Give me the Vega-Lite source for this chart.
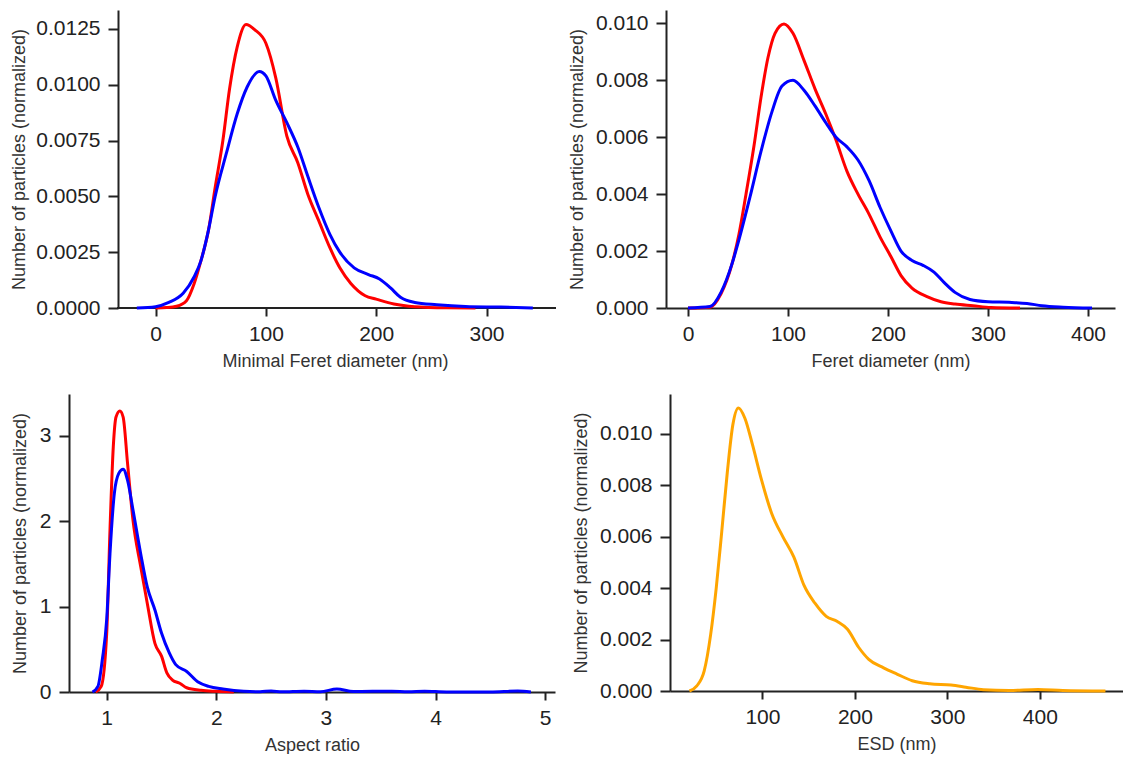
{
  "$schema": "https://vega.github.io/schema/vega-lite/v6.json",
  "background": "white",
  "padding": {"left": 10, "top": 10, "right": 0, "bottom": 0},
  "datasets": {
    "minferet": [
      {"sample": "Sample 1", "x": 0, "y": 0}, {"sample": "Sample 1", "x": 10, "y": 0.00002}, {"sample": "Sample 1", "x": 19, "y": 0.00008}, {"sample": "Sample 1", "x": 28, "y": 0.00033}, {"sample": "Sample 1", "x": 35, "y": 0.0011}, {"sample": "Sample 1", "x": 41, "y": 0.0021}, {"sample": "Sample 1", "x": 48, "y": 0.0035}, {"sample": "Sample 1", "x": 54, "y": 0.0054}, {"sample": "Sample 1", "x": 61, "y": 0.0075}, {"sample": "Sample 1", "x": 67, "y": 0.0098}, {"sample": "Sample 1", "x": 74, "y": 0.0117}, {"sample": "Sample 1", "x": 82, "y": 0.0127}, {"sample": "Sample 1", "x": 90, "y": 0.01246}, {"sample": "Sample 1", "x": 100, "y": 0.01186}, {"sample": "Sample 1", "x": 109, "y": 0.0103}, {"sample": "Sample 1", "x": 119, "y": 0.0077}, {"sample": "Sample 1", "x": 129, "y": 0.0065}, {"sample": "Sample 1", "x": 138, "y": 0.0051}, {"sample": "Sample 1", "x": 148, "y": 0.0039}, {"sample": "Sample 1", "x": 158, "y": 0.0027}, {"sample": "Sample 1", "x": 167, "y": 0.0018}, {"sample": "Sample 1", "x": 177, "y": 0.0011}, {"sample": "Sample 1", "x": 190, "y": 0.00055}, {"sample": "Sample 1", "x": 200, "y": 0.0004}, {"sample": "Sample 1", "x": 216, "y": 0.00018}, {"sample": "Sample 1", "x": 235, "y": 0.00006}, {"sample": "Sample 1", "x": 264, "y": 0.00001}, {"sample": "Sample 1", "x": 290, "y": 0},
      {"sample": "Sample 2", "x": -17, "y": 0}, {"sample": "Sample 2", "x": 0, "y": 0.00006}, {"sample": "Sample 2", "x": 12, "y": 0.00025}, {"sample": "Sample 2", "x": 25, "y": 0.00066}, {"sample": "Sample 2", "x": 35, "y": 0.0014}, {"sample": "Sample 2", "x": 41, "y": 0.0021}, {"sample": "Sample 2", "x": 48, "y": 0.0035}, {"sample": "Sample 2", "x": 54, "y": 0.005}, {"sample": "Sample 2", "x": 64, "y": 0.0069}, {"sample": "Sample 2", "x": 74, "y": 0.0087}, {"sample": "Sample 2", "x": 83, "y": 0.0099}, {"sample": "Sample 2", "x": 94, "y": 0.0106}, {"sample": "Sample 2", "x": 100, "y": 0.0104}, {"sample": "Sample 2", "x": 109, "y": 0.0093}, {"sample": "Sample 2", "x": 119, "y": 0.0083}, {"sample": "Sample 2", "x": 129, "y": 0.0072}, {"sample": "Sample 2", "x": 138, "y": 0.0059}, {"sample": "Sample 2", "x": 148, "y": 0.0045}, {"sample": "Sample 2", "x": 158, "y": 0.0033}, {"sample": "Sample 2", "x": 167, "y": 0.0025}, {"sample": "Sample 2", "x": 180, "y": 0.0018}, {"sample": "Sample 2", "x": 193, "y": 0.0015}, {"sample": "Sample 2", "x": 203, "y": 0.0013}, {"sample": "Sample 2", "x": 213, "y": 0.0009}, {"sample": "Sample 2", "x": 222, "y": 0.00048}, {"sample": "Sample 2", "x": 235, "y": 0.00025}, {"sample": "Sample 2", "x": 255, "y": 0.00015}, {"sample": "Sample 2", "x": 281, "y": 0.00007}, {"sample": "Sample 2", "x": 313, "y": 0.00004}, {"sample": "Sample 2", "x": 342, "y": 0}
    ],
    "feret": [
      {"sample": "Sample 1", "x": 0, "y": 0}, {"sample": "Sample 1", "x": 22, "y": 0.00003}, {"sample": "Sample 1", "x": 33, "y": 0.0005}, {"sample": "Sample 1", "x": 44, "y": 0.00155}, {"sample": "Sample 1", "x": 51, "y": 0.0026}, {"sample": "Sample 1", "x": 58, "y": 0.004}, {"sample": "Sample 1", "x": 66, "y": 0.0057}, {"sample": "Sample 1", "x": 73, "y": 0.0074}, {"sample": "Sample 1", "x": 80, "y": 0.0088}, {"sample": "Sample 1", "x": 87, "y": 0.00965}, {"sample": "Sample 1", "x": 96, "y": 0.00998}, {"sample": "Sample 1", "x": 105, "y": 0.00965}, {"sample": "Sample 1", "x": 116, "y": 0.0087}, {"sample": "Sample 1", "x": 127, "y": 0.0077}, {"sample": "Sample 1", "x": 138, "y": 0.0068}, {"sample": "Sample 1", "x": 148, "y": 0.0059}, {"sample": "Sample 1", "x": 159, "y": 0.0048}, {"sample": "Sample 1", "x": 170, "y": 0.004}, {"sample": "Sample 1", "x": 181, "y": 0.0033}, {"sample": "Sample 1", "x": 192, "y": 0.0025}, {"sample": "Sample 1", "x": 203, "y": 0.0018}, {"sample": "Sample 1", "x": 213, "y": 0.00114}, {"sample": "Sample 1", "x": 224, "y": 0.0007}, {"sample": "Sample 1", "x": 239, "y": 0.0004}, {"sample": "Sample 1", "x": 253, "y": 0.00022}, {"sample": "Sample 1", "x": 267, "y": 0.00014}, {"sample": "Sample 1", "x": 285, "y": 0.00008}, {"sample": "Sample 1", "x": 303, "y": 0.00002}, {"sample": "Sample 1", "x": 332, "y": 0},
      {"sample": "Sample 2", "x": 0, "y": 0}, {"sample": "Sample 2", "x": 22, "y": 0.00005}, {"sample": "Sample 2", "x": 33, "y": 0.00055}, {"sample": "Sample 2", "x": 44, "y": 0.00155}, {"sample": "Sample 2", "x": 51, "y": 0.0024}, {"sample": "Sample 2", "x": 62, "y": 0.0039}, {"sample": "Sample 2", "x": 73, "y": 0.0055}, {"sample": "Sample 2", "x": 84, "y": 0.0069}, {"sample": "Sample 2", "x": 94, "y": 0.0078}, {"sample": "Sample 2", "x": 105, "y": 0.008}, {"sample": "Sample 2", "x": 116, "y": 0.00765}, {"sample": "Sample 2", "x": 127, "y": 0.0071}, {"sample": "Sample 2", "x": 138, "y": 0.0065}, {"sample": "Sample 2", "x": 148, "y": 0.006}, {"sample": "Sample 2", "x": 159, "y": 0.00566}, {"sample": "Sample 2", "x": 170, "y": 0.0052}, {"sample": "Sample 2", "x": 181, "y": 0.00448}, {"sample": "Sample 2", "x": 192, "y": 0.00354}, {"sample": "Sample 2", "x": 203, "y": 0.0027}, {"sample": "Sample 2", "x": 213, "y": 0.002}, {"sample": "Sample 2", "x": 224, "y": 0.00167}, {"sample": "Sample 2", "x": 235, "y": 0.0015}, {"sample": "Sample 2", "x": 246, "y": 0.00126}, {"sample": "Sample 2", "x": 256, "y": 0.0009}, {"sample": "Sample 2", "x": 267, "y": 0.00055}, {"sample": "Sample 2", "x": 282, "y": 0.0003}, {"sample": "Sample 2", "x": 300, "y": 0.00022}, {"sample": "Sample 2", "x": 321, "y": 0.0002}, {"sample": "Sample 2", "x": 339, "y": 0.00016}, {"sample": "Sample 2", "x": 354, "y": 0.00008}, {"sample": "Sample 2", "x": 375, "y": 0.00003}, {"sample": "Sample 2", "x": 404, "y": 0}
    ],
    "aspect": [
      {"sample": "Sample 1", "x": 0.9, "y": 0}, {"sample": "Sample 1", "x": 0.95, "y": 0.066}, {"sample": "Sample 1", "x": 1.0, "y": 0.69}, {"sample": "Sample 1", "x": 1.03, "y": 1.9}, {"sample": "Sample 1", "x": 1.06, "y": 2.87}, {"sample": "Sample 1", "x": 1.085, "y": 3.22}, {"sample": "Sample 1", "x": 1.12, "y": 3.29}, {"sample": "Sample 1", "x": 1.15, "y": 3.22}, {"sample": "Sample 1", "x": 1.19, "y": 2.68}, {"sample": "Sample 1", "x": 1.24, "y": 2.01}, {"sample": "Sample 1", "x": 1.31, "y": 1.47}, {"sample": "Sample 1", "x": 1.37, "y": 1.04}, {"sample": "Sample 1", "x": 1.44, "y": 0.57}, {"sample": "Sample 1", "x": 1.5, "y": 0.42}, {"sample": "Sample 1", "x": 1.55, "y": 0.22}, {"sample": "Sample 1", "x": 1.6, "y": 0.14}, {"sample": "Sample 1", "x": 1.67, "y": 0.1}, {"sample": "Sample 1", "x": 1.73, "y": 0.05}, {"sample": "Sample 1", "x": 1.86, "y": 0.02}, {"sample": "Sample 1", "x": 2.0, "y": 0.008}, {"sample": "Sample 1", "x": 2.16, "y": 0},
      {"sample": "Sample 2", "x": 0.87, "y": 0}, {"sample": "Sample 2", "x": 0.92, "y": 0.066}, {"sample": "Sample 2", "x": 0.96, "y": 0.38}, {"sample": "Sample 2", "x": 1.0, "y": 0.85}, {"sample": "Sample 2", "x": 1.03, "y": 1.62}, {"sample": "Sample 2", "x": 1.07, "y": 2.33}, {"sample": "Sample 2", "x": 1.11, "y": 2.56}, {"sample": "Sample 2", "x": 1.15, "y": 2.61}, {"sample": "Sample 2", "x": 1.19, "y": 2.48}, {"sample": "Sample 2", "x": 1.24, "y": 2.13}, {"sample": "Sample 2", "x": 1.31, "y": 1.62}, {"sample": "Sample 2", "x": 1.37, "y": 1.23}, {"sample": "Sample 2", "x": 1.44, "y": 0.96}, {"sample": "Sample 2", "x": 1.5, "y": 0.69}, {"sample": "Sample 2", "x": 1.57, "y": 0.46}, {"sample": "Sample 2", "x": 1.63, "y": 0.32}, {"sample": "Sample 2", "x": 1.73, "y": 0.24}, {"sample": "Sample 2", "x": 1.83, "y": 0.12}, {"sample": "Sample 2", "x": 1.93, "y": 0.066}, {"sample": "Sample 2", "x": 2.06, "y": 0.035}, {"sample": "Sample 2", "x": 2.25, "y": 0.008}, {"sample": "Sample 2", "x": 2.4, "y": 0.003}, {"sample": "Sample 2", "x": 2.5, "y": 0.012}, {"sample": "Sample 2", "x": 2.6, "y": 0.002}, {"sample": "Sample 2", "x": 2.8, "y": 0.01}, {"sample": "Sample 2", "x": 2.95, "y": 0.002}, {"sample": "Sample 2", "x": 3.1, "y": 0.035}, {"sample": "Sample 2", "x": 3.25, "y": 0.005}, {"sample": "Sample 2", "x": 3.6, "y": 0.01}, {"sample": "Sample 2", "x": 3.75, "y": 0.002}, {"sample": "Sample 2", "x": 3.9, "y": 0.01}, {"sample": "Sample 2", "x": 4.1, "y": 0.001}, {"sample": "Sample 2", "x": 4.5, "y": 0.001}, {"sample": "Sample 2", "x": 4.75, "y": 0.012}, {"sample": "Sample 2", "x": 4.87, "y": 0}
    ],
    "esd": [
      {"sample": "ESD", "x": 21, "y": 0}, {"sample": "ESD", "x": 29, "y": 0.0002}, {"sample": "ESD", "x": 37, "y": 0.00078}, {"sample": "ESD", "x": 44, "y": 0.0022}, {"sample": "ESD", "x": 50, "y": 0.004}, {"sample": "ESD", "x": 56, "y": 0.0062}, {"sample": "ESD", "x": 62, "y": 0.0085}, {"sample": "ESD", "x": 68, "y": 0.01035}, {"sample": "ESD", "x": 74, "y": 0.011}, {"sample": "ESD", "x": 81, "y": 0.0106}, {"sample": "ESD", "x": 89, "y": 0.0096}, {"sample": "ESD", "x": 99, "y": 0.0082}, {"sample": "ESD", "x": 110, "y": 0.0069}, {"sample": "ESD", "x": 122, "y": 0.006}, {"sample": "ESD", "x": 134, "y": 0.0052}, {"sample": "ESD", "x": 145, "y": 0.0041}, {"sample": "ESD", "x": 157, "y": 0.0034}, {"sample": "ESD", "x": 169, "y": 0.0029}, {"sample": "ESD", "x": 181, "y": 0.0027}, {"sample": "ESD", "x": 192, "y": 0.0024}, {"sample": "ESD", "x": 204, "y": 0.0017}, {"sample": "ESD", "x": 215, "y": 0.00123}, {"sample": "ESD", "x": 231, "y": 0.0009}, {"sample": "ESD", "x": 246, "y": 0.00065}, {"sample": "ESD", "x": 262, "y": 0.0004}, {"sample": "ESD", "x": 281, "y": 0.00028}, {"sample": "ESD", "x": 304, "y": 0.00023}, {"sample": "ESD", "x": 320, "y": 0.00015}, {"sample": "ESD", "x": 339, "y": 0.00005}, {"sample": "ESD", "x": 367, "y": 0.00002}, {"sample": "ESD", "x": 398, "y": 0.00006}, {"sample": "ESD", "x": 425, "y": 0.00002}, {"sample": "ESD", "x": 471, "y": 0}
    ]
  },
  "spacing": 24,
  "vconcat": [
    {
      "spacing": 11,
      "hconcat": [
        {
          "width": 487, "height": 298,
          "data": {"name": "minferet"},
          "layer": [
            {
              "mark": {"type": "rule", "color": "#222222", "strokeWidth": 2},
              "encoding": {
                "x": {"datum": -34.5, "type": "quantitative"},
                "x2": {"datum": 363},
                "y": {"datum": 0, "type": "quantitative"}
              }
            },
            {
              "mark": {"type": "line", "interpolate": "monotone", "strokeWidth": 3},
              "encoding": {
                "x": {"field": "x", "type": "quantitative", "scale": {"domain": [-78.5, 363], "nice": false, "zero": false}, "axis": {"values": [0, 100, 200, 300], "title": "Minimal Feret diameter (nm)", "domain": false, "titleX": 266}},
                "y": {"field": "y", "type": "quantitative", "scale": {"domain": [0, 0.01335], "nice": false}, "axis": {"values": [0, 0.0025, 0.005, 0.0075, 0.01, 0.0125], "format": ".4f", "title": "Number of particles (normalized)", "offset": -49}},
                "color": {"field": "sample", "type": "nominal", "scale": {"domain": ["Sample 1", "Sample 2", "ESD"], "range": ["#ff0000", "#0000ff", "#ffa500"]}, "legend": null}
              }
            }
          ]
        },
        {
          "width": 449, "height": 298,
          "data": {"name": "feret"},
          "mark": {"type": "line", "interpolate": "monotone", "strokeWidth": 3},
          "encoding": {
            "x": {"field": "x", "type": "quantitative", "scale": {"domain": [-22, 427], "nice": false, "zero": false}, "axis": {"values": [0, 100, 200, 300, 400], "title": "Feret diameter (nm)"}},
            "y": {"field": "y", "type": "quantitative", "scale": {"domain": [0, 0.01047], "nice": false}, "axis": {"values": [0, 0.002, 0.004, 0.006, 0.008, 0.01], "format": ".3f", "title": "Number of particles (normalized)", "titlePadding": 9}},
            "color": {"field": "sample", "type": "nominal", "scale": {"domain": ["Sample 1", "Sample 2", "ESD"], "range": ["#ff0000", "#0000ff", "#ffa500"]}, "legend": null}
          }
        }
      ]
    },
    {
      "spacing": 17,
      "hconcat": [
        {
          "width": 486, "height": 298,
          "data": {"name": "aspect"},
          "mark": {"type": "line", "interpolate": "monotone", "strokeWidth": 3},
          "encoding": {
            "x": {"field": "x", "type": "quantitative", "scale": {"domain": [0.656, 5.09], "nice": false, "zero": false}, "axis": {"values": [1, 2, 3, 4, 5], "format": "d", "title": "Aspect ratio"}},
            "y": {"field": "y", "type": "quantitative", "scale": {"domain": [0, 3.49], "nice": false}, "axis": {"values": [0, 1, 2, 3], "format": "d", "title": "Number of particles (normalized)", "titlePadding": 10}},
            "color": {"field": "sample", "type": "nominal", "scale": {"domain": ["Sample 1", "Sample 2", "ESD"], "range": ["#ff0000", "#0000ff", "#ffa500"]}, "legend": null}
          }
        },
        {
          "width": 453, "height": 297,
          "data": {"name": "esd"},
          "mark": {"type": "line", "interpolate": "monotone", "strokeWidth": 3},
          "encoding": {
            "x": {"field": "x", "type": "quantitative", "scale": {"domain": [0, 490], "nice": false, "zero": false}, "axis": {"values": [100, 200, 300, 400], "title": "ESD (nm)"}},
            "y": {"field": "y", "type": "quantitative", "scale": {"domain": [0, 0.01154], "nice": false}, "axis": {"values": [0, 0.002, 0.004, 0.006, 0.008, 0.01], "format": ".3f", "title": "Number of particles (normalized)", "titlePadding": 9}},
            "color": {"field": "sample", "type": "nominal", "scale": {"domain": ["Sample 1", "Sample 2", "ESD"], "range": ["#ff0000", "#0000ff", "#ffa500"]}, "legend": null}
          }
        }
      ]
    }
  ],
  "config": {
    "view": {"stroke": null},
    "axis": {
      "grid": false,
      "domainColor": "#222222",
      "domainWidth": 2,
      "tickColor": "#222222",
      "tickWidth": 2,
      "labelFont": "Liberation Sans",
      "labelFontSize": 21,
      "labelColor": "#222222",
      "labelFlush": false,
      "titleFont": "Liberation Sans",
      "titleFontSize": 18,
      "titleFontWeight": "normal",
      "titleColor": "#333333"
    },
    "axisX": {"tickSize": 8, "labelPadding": 7, "titlePadding": 8},
    "axisY": {"tickSize": 10, "labelPadding": 8, "titlePadding": 7}
  }
}
